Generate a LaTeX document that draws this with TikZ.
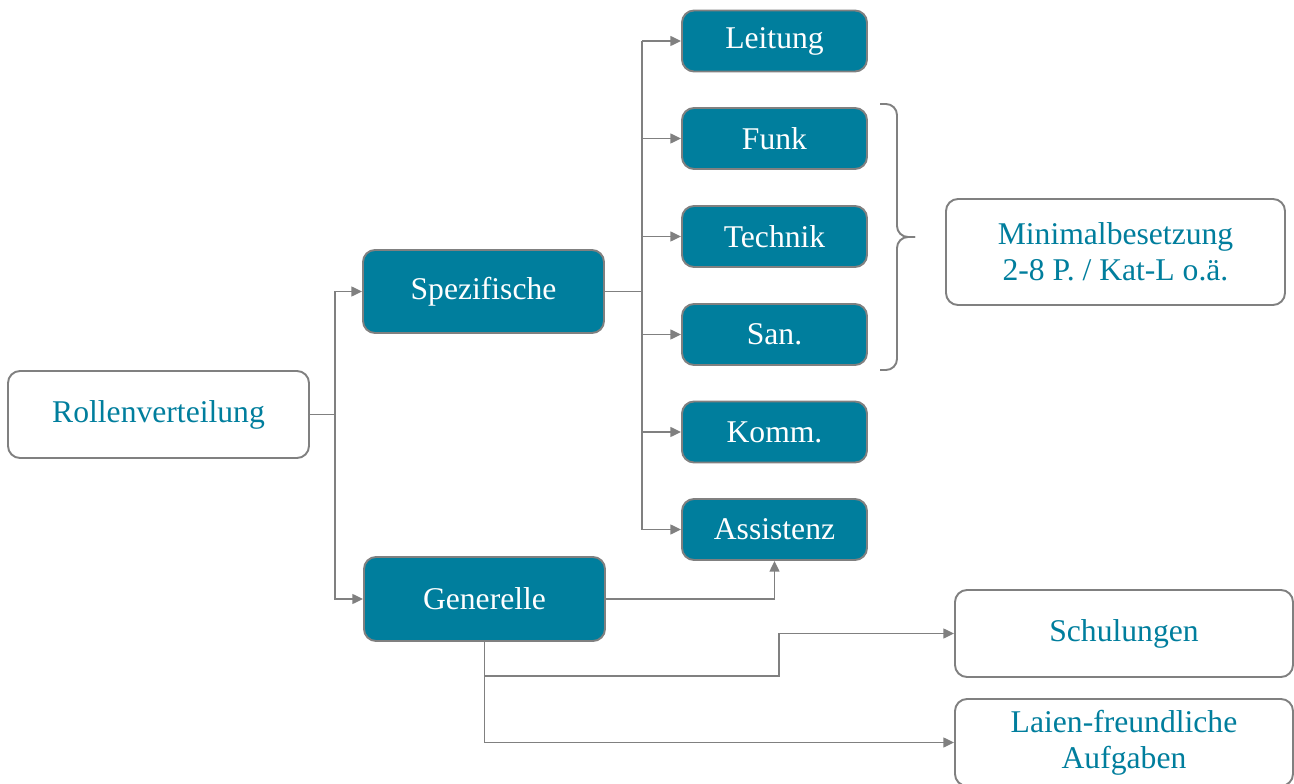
\documentclass[tikz,border=0pt]{standalone}
\usepackage{fontspec}
\setmainfont{Liberation Serif}
\usetikzlibrary{positioning,arrows.meta}
\definecolor{tealbox}{HTML}{007E9D}
\definecolor{edgegray}{HTML}{808080}

\begin{document}
\begin{tikzpicture}[
  font=\fontsize{18}{20.5}\selectfont,
  darkbox/.style={draw=edgegray, line width=1.1pt, fill=tealbox, text=white,
    rounded corners=0.24cm, align=center, inner sep=0pt},
  lightbox/.style={draw=edgegray, line width=1.1pt, fill=white, text=tealbox,
    rounded corners=0.24cm, align=center, inner sep=0pt},
  link/.style={draw=edgegray, line width=1.1pt},
  arr/.style={link, -{Triangle[length=6pt,width=5.5pt]}}
]
  \useasboundingbox (0,0) rectangle (25.88,-15.68);

  % root and the two main groups
  \node[lightbox, minimum width=6.02cm, minimum height=1.74cm] (roll) at (3.17,-8.29) {Rollenverteilung};
  \node[darkbox, minimum width=4.82cm, minimum height=1.66cm] (spez) at (9.67,-5.83) {Spezifische};
  \node[darkbox, minimum width=4.82cm, minimum height=1.68cm] (gen) at (9.69,-11.98) {Generelle};

  % specific roles (column on the right of the fork)
  \foreach \name/\txt/\ypos in {leit/Leitung/-0.82, funk/Funk/-2.77, tech/Technik/-4.73,
                                san/San./-6.69, komm/Komm./-8.64, assi/Assistenz/-10.59} {
    \node[darkbox, minimum width=3.7cm, minimum height=1.22cm] (\name) at (15.49,\ypos) {\txt};
  }

  % outcome boxes
  \node[lightbox, minimum width=6.78cm, minimum height=2.12cm] (minbes) at (22.31,-5.04)
    {Minimalbesetzung\\2-8 P. / Kat-L o.ä.};
  \node[lightbox, minimum width=6.76cm, minimum height=1.74cm] (schul) at (22.48,-12.67) {Schulungen};
  \node[lightbox, minimum width=6.76cm, minimum height=1.74cm] (laien) at (22.48,-14.85)
    {Laien-freundliche\\Aufgaben};

  % Rollenverteilung -> Spezifische / Generelle
  \coordinate (rfork) at (6.70,-8.29);
  \draw[link] (roll.east) -- (rfork);
  \draw[arr] (rfork) |- (spez.west);
  \draw[arr] (rfork) |- (gen.west);

  % Spezifische -> all six roles
  \coordinate (sfork) at (12.84,-5.83);
  \draw[link] (spez.east) -- (sfork);
  \draw[link] (sfork |- leit.west) -- (sfork |- assi.west);
  \foreach \name in {leit, funk, tech, san, komm, assi} {
    \draw[arr] (sfork |- \name.west) -- (\name.west);
  }

  % Generelle -> Assistenz, Schulungen, Laien
  \draw[arr] (gen.east) -| (assi.south);
  \coordinate (gbend) at (9.69,-13.52);
  \coordinate (sstep) at (15.58,-13.52);
  \draw[arr] (gen.south) -- (gbend) -- (sstep) |- (schul.west);
  \draw[arr] (gen.south) |- (laien.west);

  % bracket round Funk .. San.
  \coordinate (btip) at (18.30,-4.74);
  \draw[link, rounded corners=0.22cm] (17.60,-2.08) -| (17.94,-4.74) -- (btip);
  \draw[link, rounded corners=0.22cm] (17.60,-7.40) -| (17.94,-4.74) -- (btip);
\end{tikzpicture}
\end{document}
